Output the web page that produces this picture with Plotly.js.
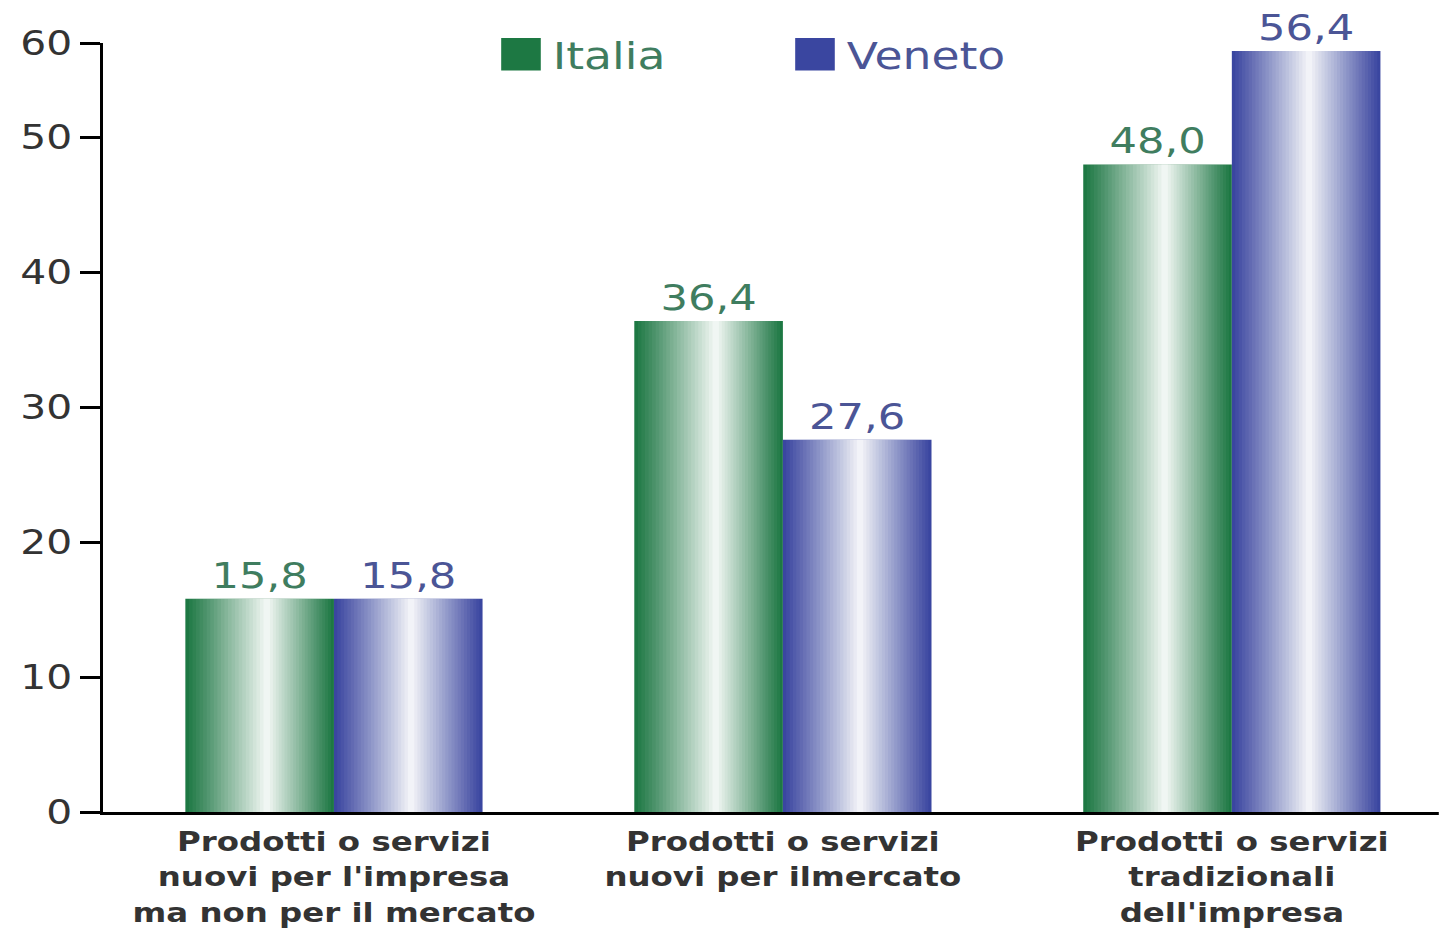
<!DOCTYPE html>
<html>
<head>
<meta charset="utf-8">
<script src="https://cdn.plot.ly/plotly-3.0.1.min.js"></script>
<style>
  html, body { margin: 0; padding: 0; background: #ffffff; overflow: hidden; }
  #chart { width: 1199px; height: 930px; transform: scaleX(1.2); transform-origin: 0 0; }
</style>
</head>
<body>
<div id="chart"></div>
<script>
// ---- data ----
const categories = [
  "Prodotti o servizi<br>nuovi per l'impresa<br>ma non per il mercato",
  "Prodotti o servizi<br>nuovi per ilmercato",
  "Prodotti o servizi<br>tradizionali<br>dell'impresa"
];
const italia = [15.8, 36.4, 48.0];
const veneto = [15.8, 27.6, 56.4];
const seriesNames = ["Italia", "Veneto"];
const yTickVals = [0, 10, 20, 30, 40, 50, 57];
const yTickText = ["0", "10", "20", "30", "40", "50", "60"];

// ---- styling ----
const FONT = "DejaVu Sans, Verdana, sans-serif";
const fmt = v => v.toFixed(1).replace(".", ",");

function gradientBars(name, values, baseColor, labelColor, offset, width, peak) {
  const traces = [];
  traces.push({
    type: "bar", name: '<span style="color:' + labelColor + '">' + name + '</span>',
    x: categories, y: values, offset: offset, width: width,
    marker: { color: baseColor, line: { width: 0 } },
    text: values.map(fmt), textposition: "outside", cliponaxis: false,
    textfont: { family: FONT, size: 36, color: labelColor },
    hoverinfo: "y+name"
  });
  const N = 22, maxWhite = 0.94;
  let prev = 0;
  for (let k = 1; k <= N; k++) {
    const level = k / (N + 1);
    const f = maxWhite * k / N;
    const alpha = (f - prev) / (1 - prev);
    prev = f;
    const left = peak * width * (1 - level);
    const right = (1 - peak) * width * (1 - level);
    traces.push({
      type: "bar", x: categories, y: values,
      offset: offset + peak * width - left, width: left + right,
      marker: { color: "rgba(255,255,255," + alpha.toFixed(4) + ")", line: { width: 0 } },
      showlegend: false, hoverinfo: "skip"
    });
  }
  return traces;
}

const barW = 0.331;
const data = []
  .concat(gradientBars(seriesNames[0], italia, "#1d7843", "#3f7d5f", -barW, barW, 0.55))
  .concat(gradientBars(seriesNames[1], veneto, "#3a46a0", "#4b5596", 0, barW, 0.52));

const layout = {
  width: 1199, height: 930,
  margin: { l: 86, r: 0, t: 43, b: 118, pad: 0 },
  paper_bgcolor: "#ffffff", plot_bgcolor: "#ffffff",
  barmode: "overlay",
  showlegend: true,
  legend: {
    orientation: "h", x: 0.289, xanchor: "left", y: 0.985, yanchor: "middle",
    font: { family: FONT, size: 38 }, bgcolor: "rgba(0,0,0,0)",
    itemwidth: 43, entrywidth: 187, traceorder: "normal"
  },
  xaxis: {
    type: "category", range: [-0.514, 2.461],
    showline: true, linecolor: "#000000", linewidth: 3,
    ticks: "", showgrid: false, zeroline: false, ticklabelstandoff: 4,
    tickfont: { family: FONT, size: 27, color: "#333333", weight: "bold" }
  },
  yaxis: {
    range: [0, 57], tickvals: yTickVals, ticktext: yTickText,
    showline: true, linecolor: "#000000", linewidth: 3,
    ticks: "outside", ticklen: 16, tickwidth: 3, tickcolor: "#000000",
    showgrid: false, zeroline: false,
    tickfont: { family: FONT, size: 34, color: "#333333" }
  }
};

Plotly.newPlot("chart", data, layout, { displayModeBar: false, staticPlot: true }).then(() => {
  document.querySelectorAll("#chart .legend .legendpoints path").forEach(p => {
    const t = p.getAttribute("transform") || "";
    p.setAttribute("transform", t + " scale(2.75,2.7)");
  });
});
</script>
</body>
</html>
